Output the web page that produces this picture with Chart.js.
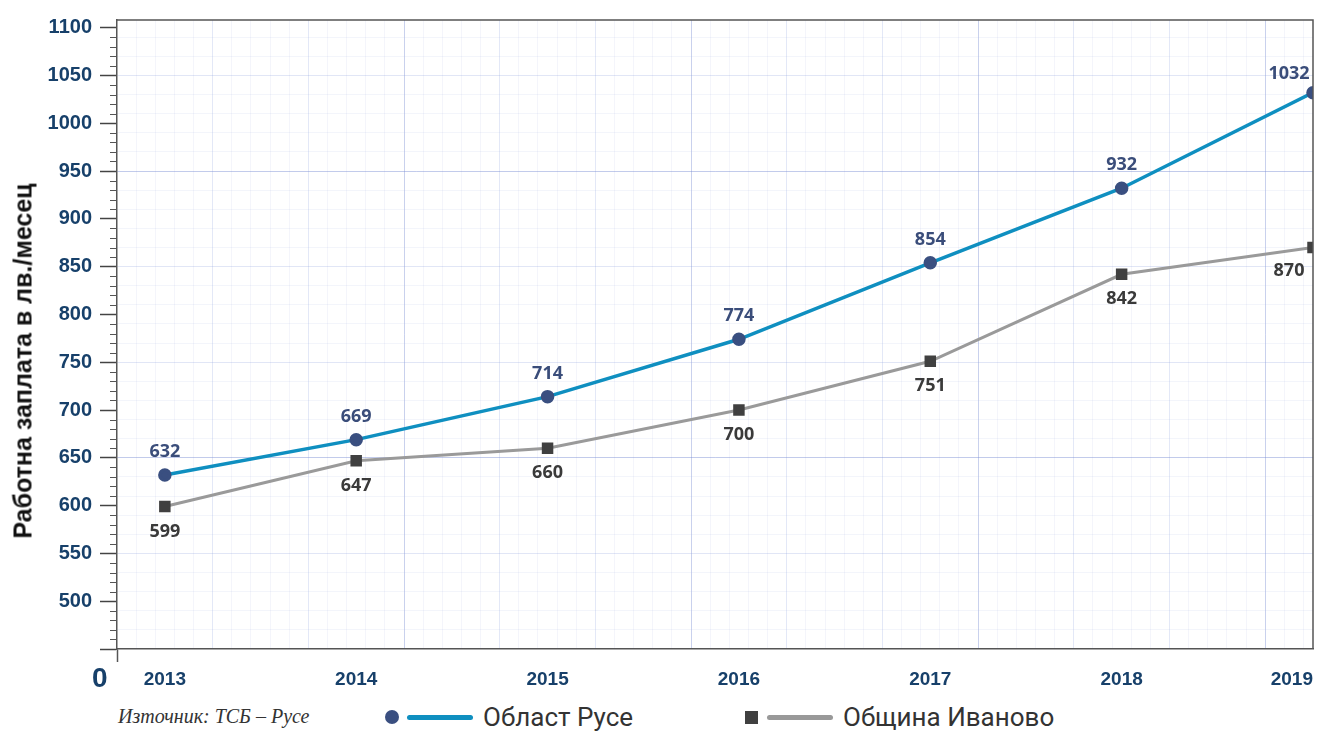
<!DOCTYPE html>
<html lang="bg">
<head>
<meta charset="UTF-8">
<title>Работна заплата – Област Русе и Община Иваново</title>
<script src="https://cdn.jsdelivr.net/npm/chart.js"></script>
<style>
  body { margin: 0; background: #fff; }
  #wrap { position: relative; width: 1318px; height: 731px; overflow: hidden; }
  #chart { position: absolute; left: 0; top: 0; }
  .ytitle {
    position: absolute; left: 23px; top: 361px;
    transform: translate(-50%, -50%) rotate(-90deg);
    font: bold 25px "Liberation Sans", Arial, sans-serif; color: #111; white-space: nowrap;
  }
  .zero {
    position: absolute; left: 92px; top: 662px;
    font: bold 28px "Liberation Sans", Arial, sans-serif; color: #17406a;
  }
  .source {
    position: absolute; left: 118px; top: 705px;
    font: italic 20px "Liberation Serif", "DejaVu Serif", serif; color: #333;
  }
  .leg { position: absolute; top: 703px; height: 28px; display: flex; align-items: center;
    font: 26px Roboto, "Noto Sans", sans-serif; color: #333; }
  .leg .dot { width: 14px; height: 14px; border-radius: 50%; background: #3a4f80; margin-right: 8px; }
  .leg .sq { width: 13px; height: 13px; background: #404040; margin-right: 9px; }
  .leg .ln { width: 66px; height: 5px; border-radius: 3px; margin-right: 10px; }
</style>
</head>
<body>
<div id="wrap">
  <canvas id="chart" width="1318" height="700"></canvas>
  <div class="ytitle">Работна заплата в лв./месец</div>
  <div class="zero">0</div>
  <div class="source">Източник: ТСБ – Русе</div>
  <div class="leg" style="left:385px"><span class="dot"></span><span class="ln" style="background:#0f8fc0"></span>Област Русе</div>
  <div class="leg" style="left:745px"><span class="sq"></span><span class="ln" style="background:#999"></span>Община Иваново</div>
</div>

<script>
// данни
var years = [2013, 2014, 2015, 2016, 2017, 2018, 2019];
var oblastRuse = [632, 669, 714, 774, 854, 932, 1032];
var obshtinaIvanovo = [599, 647, 660, 700, 751, 842, 870];
var yLabels = [500, 550, 600, 650, 700, 750, 800, 850, 900, 950, 1000, 1050, 1100];

function toPoints(values) {
    return values.map(function(v, i) { return { x: years[i], y: v }; });
}

// етикети със стойности до точките
var valueLabels = {
    id: 'valueLabels',
    afterDatasetsDraw: function(chart) {
        var ctx = chart.ctx;
        ctx.save();
        ctx.font = 'bold 18px "Open Sans", "Noto Sans", sans-serif';
        ctx.textAlign = 'center';
        ctx.textBaseline = 'middle';
        chart.data.datasets.forEach(function(ds, i) {
            var meta = chart.getDatasetMeta(i);
            meta.data.forEach(function(pt, j) {
                var last = j === meta.data.length - 1;
                var dx = last ? -24 : 0;
                var dy = ds.labelSide === 'above' ? (last ? -19 : -23) : (last ? 23 : 25);
                ctx.fillStyle = ds.labelColor;
                ctx.fillText(String(ds.data[j].y), pt.x + dx, pt.y + dy);
            });
        });
        ctx.restore();
    }
};

// рамка и малки деления по оста Y
var frameAndMinor = {
    id: 'frameAndMinor',
    afterDraw: function(chart) {
        var ctx = chart.ctx, a = chart.chartArea, y = chart.scales.y;
        ctx.save();
        ctx.strokeStyle = '#555';
        ctx.lineWidth = 1.5;
        ctx.beginPath();
        ctx.moveTo(a.left, a.top);
        ctx.lineTo(a.right, a.top);
        ctx.lineTo(a.right, a.bottom);
        ctx.stroke();
        ctx.lineWidth = 1.2;
        ctx.beginPath();
        y.ticks.forEach(function(t) {
            if (t.value % 50 !== 0) {
                var py = Math.round(y.getPixelForValue(t.value)) + 0.5;
                ctx.moveTo(a.left - 7, py);
                ctx.lineTo(a.left, py);
            }
        });
        ctx.stroke();
        ctx.restore();
    }
};

var ctx = document.getElementById('chart').getContext('2d');
var chart = new Chart(ctx, {
    type: 'line',
    data: {
        datasets: [
            {
                label: 'Област Русе',
                data: toPoints(oblastRuse),
                borderColor: '#0f8fc0',
                borderWidth: 3.5,
                pointStyle: 'circle',
                pointRadius: 5,
                pointBackgroundColor: '#3a4f80',
                pointBorderColor: '#3a4f80',
                labelSide: 'above',
                labelColor: '#3a4d7a',
                order: 1
            },
            {
                label: 'Община Иваново',
                data: toPoints(obshtinaIvanovo),
                borderColor: '#9a9a9a',
                borderWidth: 3,
                pointStyle: 'rect',
                pointRadius: 6,
                pointBackgroundColor: '#404040',
                pointBorderColor: '#404040',
                labelSide: 'below',
                labelColor: '#3a3a3a',
                order: 2
            }
        ]
    },
    options: {
        responsive: false,
        animation: false,
        layout: { autoPadding: false, padding: { top: 19, right: 5, left: 0, bottom: 0 } },
        plugins: { legend: { display: false }, tooltip: { enabled: false } },
        scales: {
            x: {
                type: 'linear',
                min: 2012.75,
                max: 2019,
                afterBuildTicks: function(s) {
                    s.ticks = [{ value: 2012.75 }].concat(years.map(function(v) { return { value: v }; }));
                },
                afterFit: function(s) { s.height = 51; s.paddingRight = 0; s.paddingLeft = 0; },
                ticks: {
                    autoSkip: false,
                    maxRotation: 0,
                    align: 'inner',
                    padding: 6,
                    color: '#17406a',
                    font: { family: '"Liberation Sans", Arial, sans-serif', size: 19, weight: 'bold' },
                    callback: function(v) { return years.indexOf(v) >= 0 ? String(v) : ''; }
                },
                grid: {
                    drawOnChartArea: false,
                    tickLength: 13,
                    tickWidth: 1.5,
                    tickColor: function(c) { return c.index === 0 ? '#555' : 'transparent'; }
                },
                border: { color: '#555', width: 1.5 }
            },
            xg: {
                type: 'linear',
                position: 'bottom',
                weight: 5,
                min: 0,
                max: 62.5,
                afterBuildTicks: function(s) {
                    var t = [];
                    for (var i = 0; i <= 62; i++) t.push({ value: i });
                    s.ticks = t;
                },
                afterFit: function(s) { s.height = 0; s.paddingRight = 0; s.paddingLeft = 0; },
                ticks: { display: false },
                border: { display: false },
                grid: {
                    drawTicks: false,
                    color: function(c) {
                        var v = c.tick.value;
                        if (v === 0) return 'transparent';
                        if (v % 15 === 0) return 'rgba(120,140,210,0.4)';
                        if (v % 5 === 0) return 'rgba(140,160,220,0.24)';
                        return 'rgba(165,175,225,0.12)';
                    }
                }
            },
            y: {
                type: 'linear',
                min: 450,
                max: 1108,
                afterBuildTicks: function(s) {
                    var t = [];
                    for (var v = 450; v <= 1100; v += 10) t.push({ value: v });
                    s.ticks = t;
                },
                afterFit: function(s) { s.width = 117; },
                ticks: {
                    autoSkip: false,
                    padding: 8,
                    color: '#17406a',
                    font: { family: '"Liberation Sans", Arial, sans-serif', size: 20, weight: 'bold' },
                    callback: function(v) { return yLabels.indexOf(v) >= 0 ? String(v) : ''; }
                },
                grid: {
                    tickLength: 17,
                    tickWidth: 1.5,
                    tickColor: function(c) { return c.tick.value % 50 === 0 ? '#444' : 'transparent'; },
                    color: function(c) {
                        var v = c.tick.value;
                        if (v === 450) return 'transparent';
                        if (v === 950 || v === 650) return 'rgba(120,140,210,0.45)';
                        if ((v - 950) % 100 === 0) return 'rgba(140,160,220,0.26)';
                        if ((v - 950) % 20 === 0) return 'rgba(165,175,225,0.13)';
                        return 'transparent';
                    }
                },
                border: { color: '#555', width: 1.5 }
            }
        }
    },
    plugins: [valueLabels, frameAndMinor]
});
</script>
</body>
</html>
